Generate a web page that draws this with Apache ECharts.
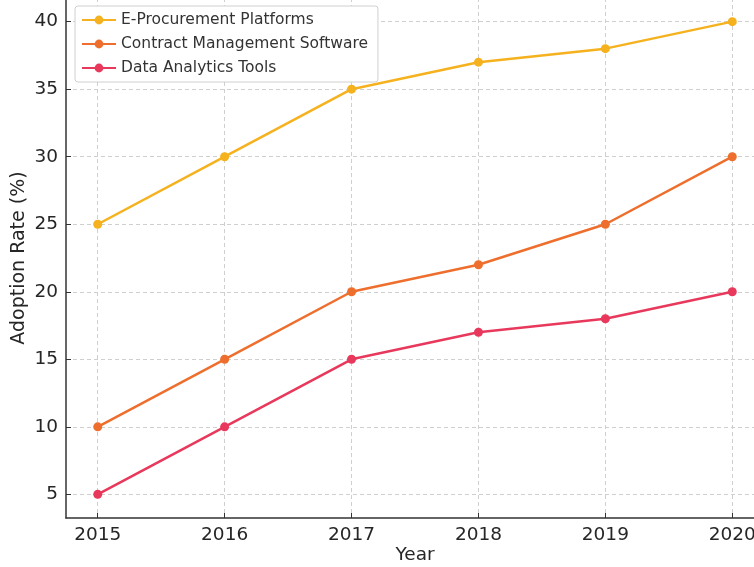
<!DOCTYPE html>
<html>
<head>
<meta charset="utf-8">
<title>Adoption Rate</title>
<script src="https://cdn.jsdelivr.net/npm/echarts@6/dist/echarts.min.js"></script>
<style>
  html, body { margin: 0; padding: 0; background: #fff; }
  #chart { width: 754px; height: 567px; }
</style>
</head>
<body>
<div id="chart"></div>
<script>
// 数据
const years = [2015, 2016, 2017, 2018, 2019, 2020]
const eProcurement = [25, 30, 35, 37, 38, 40]
const contractMgmt = [10, 15, 20, 22, 25, 30]
const dataAnalytics = [5, 10, 15, 17, 18, 20]
const yTicks = [5, 10, 15, 20, 25, 30, 35, 40]

const seriesNames = ['E-Procurement Platforms', 'Contract Management Software', 'Data Analytics Tools']
const seriesColors = ['#f5b21e', '#ee6f2d', '#e8395c']

const pairs = arr => years.map((y, i) => [y, arr[i]])

const chart = echarts.init(document.getElementById('chart'))

const font = 'DejaVu Sans'
const textColor = '#262626'

chart.setOption({
  animation: false,
  textStyle: { fontFamily: font },
  grid: { left: 66, right: -10, top: -2, bottom: 49, outerBoundsMode: 'none', containLabel: false },
  legend: {
    orient: 'vertical',
    left: 75,
    top: 6,
    padding: [6, 10, 6, 6],
    itemGap: 8,
    itemWidth: 34,
    itemHeight: 11,
    backgroundColor: '#fff',
    borderColor: '#d0d0d0',
    borderWidth: 1,
    borderRadius: 3,
    textStyle: { fontFamily: font, fontSize: 15.5, color: '#333', lineHeight: 16 },
    data: seriesNames
  },
  xAxis: {
    type: 'value',
    min: 2014.75,
    max: 2020.25,
    name: 'Year',
    nameLocation: 'middle',
    nameGap: 28,
    nameMoveOverlap: false,
    nameTextStyle: { fontSize: 18.5, color: textColor },
    axisLine: { show: true, lineStyle: { color: '#333', width: 1.5 } },
    axisTick: { show: true, inside: true, length: 5, customValues: years, lineStyle: { color: '#333' } },
    axisLabel: { customValues: years, fontSize: 18.5, color: textColor, margin: 8, formatter: v => String(v) },
    splitLine: { show: true, lineStyle: { color: '#cfcfcf', type: [4, 3], width: 1 } }
  },
  yAxis: {
    type: 'value',
    min: 3.25,
    max: 41.75,
    name: 'Adoption Rate (%)',
    nameLocation: 'middle',
    nameGap: 37,
    nameMoveOverlap: false,
    nameTextStyle: { fontSize: 19, color: textColor },
    axisLine: { show: true, lineStyle: { color: '#333', width: 1.5 } },
    axisTick: { show: true, inside: true, length: 5, customValues: yTicks, lineStyle: { color: '#333' } },
    axisLabel: { customValues: yTicks, fontSize: 18.5, color: textColor, margin: 8 },
    splitLine: { show: true, lineStyle: { color: '#cfcfcf', type: [4, 3], width: 1 } }
  },
  series: [eProcurement, contractMgmt, dataAnalytics].map((arr, i) => ({
    name: seriesNames[i],
    type: 'line',
    data: pairs(arr),
    symbol: 'circle',
    symbolSize: 9,
    color: seriesColors[i],
    lineStyle: { width: 2.5, color: seriesColors[i] },
    itemStyle: { color: seriesColors[i] }
  }))
})
</script>
</body>
</html>
